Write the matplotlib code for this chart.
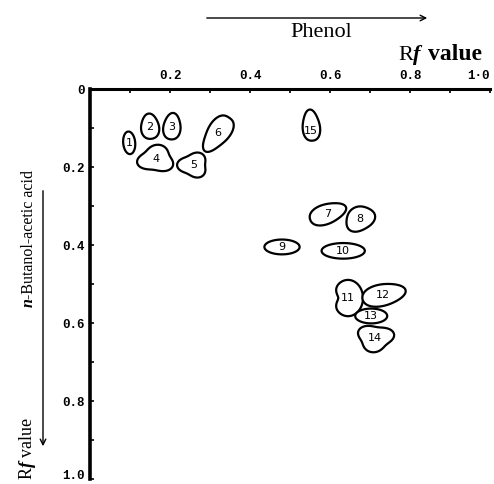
import numpy as np
import matplotlib
matplotlib.use("Agg")
import matplotlib.pyplot as plt
from matplotlib.ticker import FixedLocator, FuncFormatter

# spot numbers and their Rf values (phenol = x, n-butanol-acetic acid = y)
spot_ids = ["1", "2", "3", "4", "5", "6", "15", "7", "8", "9", "10", "11", "12", "13", "14"]
rf_phenol = [0.098, 0.150, 0.205, 0.165, 0.258, 0.320, 0.553, 0.593, 0.675, 0.480, 0.633, 0.645, 0.733, 0.703, 0.713]
rf_butanol = [0.138, 0.097, 0.097, 0.180, 0.195, 0.113, 0.095, 0.320, 0.333, 0.405, 0.415, 0.536, 0.528, 0.582, 0.638]
# spot extent in Rf units (long side, short side) and tilt in degrees
spot_long = [0.058, 0.065, 0.068, 0.085, 0.070, 0.105, 0.080, 0.095, 0.075, 0.088, 0.108, 0.093, 0.110, 0.080, 0.085]
spot_short = [0.030, 0.045, 0.043, 0.065, 0.060, 0.055, 0.043, 0.050, 0.060, 0.038, 0.040, 0.075, 0.055, 0.038, 0.065]
spot_tilt = [95, 95, 85, 0, 0, 55, 95, 20, 30, 0, 0, 90, 12, 0, 0]

# outline shape tweaks: triangular lobes (k, angle) and a notch (depth, angle)
lobe_k = [0, 0.05, 0.05, 0.15, 0.15, 0.08, 0.06, 0.05, 0.06, 0, 0, 0, 0.04, 0, 0.15]
lobe_phi = [0, 0, 0, 80, 180, 180, 0, 0, 90, 0, 0, 0, 0, 0, 260]
notch_d = [0, 0, 0, 0, 0, 0, 0, 0, 0, 0, 0, 0.35, 0, 0, 0]
notch_at = [0, 0, 0, 0, 0, 0, 0, 0, 0, 0, 0, 90, 0, 0, 0]

x_ticks = [0.0, 0.1, 0.2, 0.3, 0.4, 0.5, 0.6, 0.7, 0.8, 0.9, 1.0]
x_labels = {0.2: "0.2", 0.4: "0.4", 0.6: "0.6", 0.8: "0.8", 1.0: "1\u00b70"}
y_labels = {0.0: "0", 0.2: "0.2", 0.4: "0.4", 0.6: "0.6", 0.8: "0.8", 1.0: "1.0"}


def outline(cx, cy, a, b, tilt, k, phi, nd, na):
    t = np.linspace(0, 2 * np.pi, 200)
    r = 1 + k * np.cos(3 * (t - np.radians(phi)))
    d = np.angle(np.exp(1j * (t - np.radians(na))))
    r = r - nd * np.exp(-(d / 0.45) ** 2)
    u = a / 2 * r * np.cos(t)
    v = b / 2 * r * np.sin(t)
    th = np.radians(tilt)
    vx = u * np.cos(th) - v * np.sin(th)
    vy = u * np.sin(th) + v * np.cos(th)
    return cx + vx, cy - vy


fig = plt.figure(figsize=(4.94, 4.84), dpi=100)
ax = fig.add_axes([90 / 494, 1 - 479 / 484, 400 / 494, 390 / 484])
ax.set_xlim(0, 1.0)
ax.set_ylim(1.0, 0)

for i in range(len(spot_ids)):
    xs, ys = outline(rf_phenol[i], rf_butanol[i], spot_long[i], spot_short[i], spot_tilt[i],
                     lobe_k[i], lobe_phi[i], notch_d[i], notch_at[i])
    ax.fill(xs, ys, facecolor="white", edgecolor="black", linewidth=1.6, zorder=2 + i * 0.01)
    dy = 0.012 if spot_ids[i] == "15" else 0
    ax.text(rf_phenol[i], rf_butanol[i] + dy, spot_ids[i], ha="center", va="center",
            fontsize=8, family="DejaVu Sans", zorder=3)

# axes look like the printed figure: top and left only
for s in ["bottom", "right"]:
    ax.spines[s].set_visible(False)
ax.spines["top"].set_linewidth(2.2)
ax.spines["left"].set_linewidth(2.6)
ax.xaxis.tick_top()
ax.xaxis.set_major_locator(FixedLocator(x_ticks))
ax.yaxis.set_major_locator(FixedLocator(x_ticks))
ax.xaxis.set_major_formatter(FuncFormatter(lambda v, p: x_labels.get(round(v, 1), "")))
ax.yaxis.set_major_formatter(FuncFormatter(lambda v, p: y_labels.get(round(v, 1), "")))
ax.tick_params(direction="in", length=3, width=1.2, top=True, bottom=False, left=True, right=False)
ax.tick_params(axis="x", pad=5)
ax.tick_params(axis="y", pad=4)
for tk in ax.xaxis.get_major_ticks() + ax.yaxis.get_major_ticks():
    for lab in (tk.label1, tk.label2):
        lab.set_family("Liberation Mono")
        lab.set_fontweight("bold")
        lab.set_fontsize(9)
ax.xaxis.get_major_ticks()[-1].label2.set_horizontalalignment("right")
ax.xaxis.get_major_ticks()[-1].label2.set_x(1.01)
ax.yaxis.get_major_ticks()[-1].label1.set_verticalalignment("baseline")

# solvent directions
fig.patches.append(matplotlib.patches.FancyArrowPatch(
    (204 / 494, 1 - 18 / 484), (430 / 494, 1 - 18 / 484), transform=fig.transFigure,
    arrowstyle="->", mutation_scale=10, linewidth=1.0, color="black"))
fig.text(321 / 494, 1 - 33 / 484, "Phenol", ha="center", va="center",
         family="Liberation Serif", fontsize=16)
fig.text(398 / 494, 1 - 55 / 484, "R", ha="left", va="center", family="Liberation Serif", fontsize=16)
fig.text(413 / 494, 1 - 55 / 484, "f", ha="left", va="center", family="Liberation Serif",
         fontsize=16, style="italic", fontweight="bold")
fig.text(428 / 494, 1 - 55 / 484, "value", ha="left", va="center", family="Liberation Serif",
         fontsize=17, fontweight="bold")

fig.patches.append(matplotlib.patches.FancyArrowPatch(
    (43 / 494, 1 - 188 / 484), (43 / 494, 1 - 449 / 484), transform=fig.transFigure,
    arrowstyle="->", mutation_scale=10, linewidth=1.0, color="black"))
fig.text(29 / 494, 1 - 307 / 484, "n", ha="center", va="bottom", rotation=90,
         family="Liberation Serif", fontsize=11.5, style="italic", fontweight="bold")
fig.text(29 / 494, 1 - 299 / 484, "-Butanol-acetic acid", ha="center", va="bottom", rotation=90,
         family="Liberation Serif", fontsize=11.5)
fig.text(27 / 494, 1 - 479 / 484, "R", ha="center", va="bottom", rotation=90,
         family="Liberation Serif", fontsize=13)
fig.text(27 / 494, 1 - 467 / 484, "f", ha="center", va="bottom", rotation=90,
         family="Liberation Serif", fontsize=13, style="italic", fontweight="bold")
fig.text(27 / 494, 1 - 457 / 484, "value", ha="center", va="bottom", rotation=90,
         family="Liberation Serif", fontsize=13)

fig.savefig("out.png", dpi=100)
